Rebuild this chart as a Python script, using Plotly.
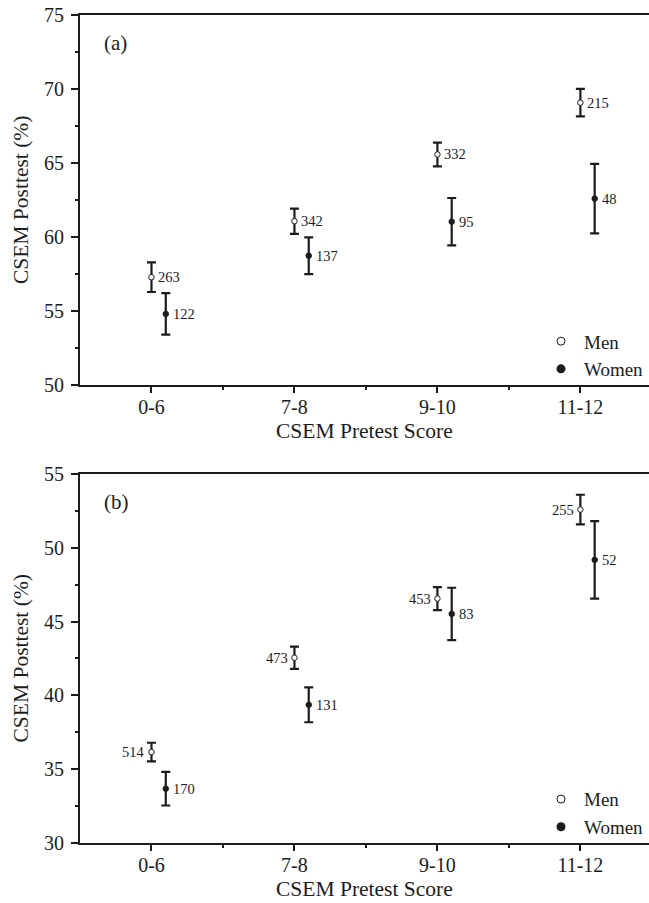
import plotly.graph_objects as go

categories = ["0-6", "7-8", "9-10", "11-12"]

# Panel (a)
men_a = [57.29, 61.07, 65.58, 69.08]
men_a_err = [1.00, 0.85, 0.80, 0.93]
men_a_n = [263, 342, 332, 215]
women_a = [54.81, 58.74, 61.04, 62.60]
women_a_err = [1.40, 1.24, 1.60, 2.35]
women_a_n = [122, 137, 95, 48]

# Panel (b)
men_b = [36.16, 42.55, 46.56, 52.59]
men_b_err = [0.63, 0.75, 0.78, 1.00]
men_b_n = [514, 473, 453, 255]
women_b = [33.68, 39.36, 45.52, 49.18]
women_b_err = [1.14, 1.18, 1.77, 2.63]
women_b_n = [170, 131, 83, 52]

FONT = "Liberation Serif"
INK = "#1c1c1c"
offset = 0.1
xpos = [i + 1 for i in range(len(categories))]
xpos_w = [x + offset for x in xpos]

fig = go.Figure()

def add_series(x, y, err, open_marker, xa, ya):
    fig.add_trace(go.Scatter(
        x=x, y=y, mode="markers", xaxis=xa, yaxis=ya, showlegend=False,
        marker=dict(size=5.5, symbol="circle",
                    color="white" if open_marker else INK,
                    line=dict(color=INK, width=1)),
        error_y=dict(type="data", array=err, visible=True, color=INK,
                     thickness=2.2, width=4.5),
    ))

add_series(xpos, men_a, men_a_err, True, "x", "y")
add_series(xpos_w, women_a, women_a_err, False, "x", "y")
add_series(xpos, men_b, men_b_err, True, "x2", "y2")
add_series(xpos_w, women_b, women_b_err, False, "x2", "y2")

# legend-only traces
for lg, xa, ya in [("legend", "x", "y"), ("legend2", "x2", "y2")]:
    fig.add_trace(go.Scatter(x=[None], y=[None], mode="markers", name="Men",
                             legend=lg, xaxis=xa, yaxis=ya,
                             marker=dict(size=8, color="white", line=dict(color=INK, width=1))))
    fig.add_trace(go.Scatter(x=[None], y=[None], mode="markers", name="Women",
                             legend=lg, xaxis=xa, yaxis=ya,
                             marker=dict(size=9, color=INK, line=dict(color=INK, width=0))))

annotations = []
def labels(x, y, ns, xa, ya, side):
    for xi, yi, n in zip(x, y, ns):
        annotations.append(dict(
            x=xi, y=yi, xref=xa, yref=ya, text=str(n), showarrow=False,
            xanchor="left" if side == "right" else "right",
            xshift=5 if side == "right" else -4, yanchor="middle",
            font=dict(family=FONT, size=14.5, color=INK)))

labels(xpos, men_a, men_a_n, "x", "y", "right")
labels(xpos_w, women_a, women_a_n, "x", "y", "right")
labels(xpos, men_b, men_b_n, "x2", "y2", "left")
labels(xpos_w, women_b, women_b_n, "x2", "y2", "right")

for tag, xa, ya in [("(a)", "x", "y"), ("(b)", "x2", "y2")]:
    annotations.append(dict(text=tag, x=0, y=1, xref=f"{xa} domain", yref=f"{ya} domain",
                            xanchor="left", yanchor="middle", xshift=22, yshift=-28,
                            showarrow=False, font=dict(family=FONT, size=21, color=INK)))
    annotations.append(dict(text="CSEM Pretest Score", x=0.5, y=0, xref=f"{xa} domain",
                            yref=f"{ya} domain", xanchor="center", yanchor="middle",
                            yshift=-46, showarrow=False,
                            font=dict(family=FONT, size=21.5, color=INK)))
    annotations.append(dict(text="CSEM Posttest (%)", x=0, y=0.5, xref=f"{xa} domain",
                            yref=f"{ya} domain", xanchor="center", yanchor="middle",
                            xshift=-59, textangle=-90, showarrow=False,
                            font=dict(family=FONT, size=21.5, color=INK)))

xaxis_common = dict(
    range=[0.5, 4.48], tickmode="array", tickvals=xpos, ticktext=categories,
    showline=True, linecolor=INK, linewidth=2, mirror=True,
    ticks="outside", ticklen=6, tickwidth=2, tickcolor=INK,
    showgrid=False, zeroline=False, ticklabelstandoff=-3,
    tickfont=dict(family=FONT, size=20, color=INK),
    minor=dict(tickmode="array", tickvals=[1.5, 2.5, 3.5], ticks="outside",
               ticklen=3, tickwidth=2, tickcolor=INK, showgrid=False),
)
yaxis_common = dict(
    showline=True, linecolor=INK, linewidth=2, mirror=False,
    ticks="outside", ticklen=7, tickwidth=2, tickcolor=INK, dtick=5,
    showgrid=False, zeroline=False, ticklabelstandoff=3,
    tickfont=dict(family=FONT, size=20, color=INK),
    minor=dict(dtick=2.5, ticks="outside", ticklen=3, tickwidth=2,
               tickcolor=INK, showgrid=False),
)

legend_common = dict(xanchor="right", yanchor="middle", bgcolor="rgba(0,0,0,0)",
                     font=dict(family=FONT, size=19, color=INK),
                     tracegroupgap=0, itemwidth=36)

fig.update_layout(
    width=649, height=903,
    margin=dict(l=80, r=0, t=15, b=60),
    plot_bgcolor="white", paper_bgcolor="white",
    xaxis=dict(domain=[0, 1], anchor="y", **xaxis_common),
    yaxis=dict(domain=[0.553, 1], anchor="x", range=[50, 75], **yaxis_common),
    xaxis2=dict(domain=[0, 1], anchor="y2", **xaxis_common),
    yaxis2=dict(domain=[0, 0.4457], anchor="x2", range=[30, 55], **yaxis_common),
    annotations=annotations,
    legend=dict(x=1, y=0.589, **legend_common),
    legend2=dict(x=1, y=0.036, **legend_common),
    showlegend=True,
)

fig.write_html("out.html",
               config={"displayModeBar": False},
               post_script="document.body.style.margin='0';document.body.style.overflow='hidden';")
